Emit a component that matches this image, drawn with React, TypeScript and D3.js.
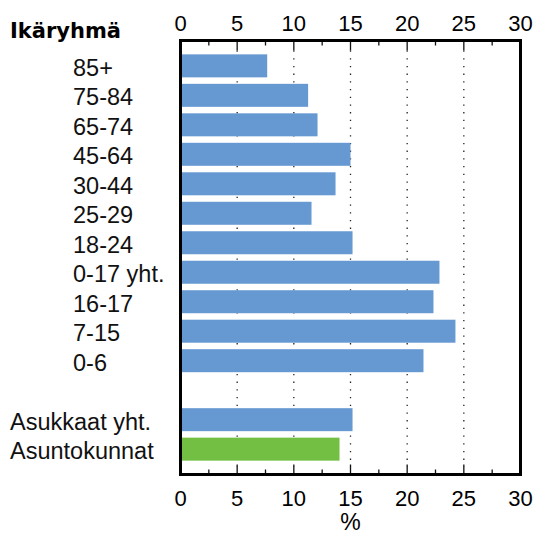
import * as d3 from 'd3';

// Ikäryhmät ylhäältä alas
const ageGroups = ['85+', '75-84', '65-74', '45-64', '30-44', '25-29', '18-24', '0-17 yht.', '16-17', '7-15', '0-6'];
const ageValues = [7.65, 11.26, 12.09, 15.0, 13.68, 11.56, 15.18, 22.85, 22.32, 24.26, 21.44];

const totalGroups = ['Asukkaat yht.', 'Asuntokunnat'];
const totalValues = [15.18, 14.03];

const xTicks = [0, 5, 10, 15, 20, 25, 30];
const minorTicks = [2.5, 7.5, 12.5, 17.5, 22.5, 27.5];
const gridTicks = [5, 10, 15, 20, 25];

const W = 534;
const H = 535;
const BLUE = '#6699d2';
const GREEN = '#72bf44';
const FONT = '"Liberation Sans", Arial, sans-serif';

export default function App() {
    const left = 180.5, right = 520.5, top = 40.5, bottom = 474.5;

    const rows = [...ageGroups, '__gap', ...totalGroups];
    const bars = [
        ...ageGroups.map((k, i) => ({ key: k, value: ageValues[i], color: BLUE, indent: true })),
        ...totalGroups.map((k, i) => ({ key: k, value: totalValues[i], color: i === 1 ? GREEN : BLUE, indent: false })),
    ];

    const x = d3.scaleLinear().domain([0, 30]).range([left, right]);
    const y = d3.scaleBand<string>().domain(rows).range([top, bottom]).paddingInner(0.22).paddingOuter(0.47);

    return (
        <div style={{ position: 'fixed', left: 0, top: 0 }}>
            <svg width={W} height={H} style={{ display: 'block', background: '#fff' }}>
                {/* pisteviivat */}
                {gridTicks.map(t => (
                    <line key={'g' + t} x1={x(t)} x2={x(t)} y1={top + 10} y2={bottom - 8}
                        stroke="#222" strokeWidth={1.3} strokeDasharray="1.3 6.4" />
                ))}

                {bars.map(b => (
                    <rect key={b.key} x={x(0)} y={y(b.key)} width={x(b.value) - x(0)}
                        height={y.bandwidth()} fill={b.color} />
                ))}

                {/* tikit */}
                {xTicks.map(t => (
                    <g key={'t' + t}>
                        <line x1={x(t)} x2={x(t)} y1={top} y2={top + 10} stroke="#111" strokeWidth={1.3} />
                        <line x1={x(t)} x2={x(t)} y1={bottom} y2={bottom - 10} stroke="#111" strokeWidth={1.3} />
                    </g>
                ))}
                {minorTicks.map(t => (
                    <g key={'m' + t}>
                        <line x1={x(t)} x2={x(t)} y1={top} y2={top + 5} stroke="#111" strokeWidth={1.3} />
                        <line x1={x(t)} x2={x(t)} y1={bottom} y2={bottom - 5} stroke="#111" strokeWidth={1.3} />
                    </g>
                ))}

                <rect x={left} y={top} width={right - left} height={bottom - top}
                    fill="none" stroke="#000" strokeWidth={3} />

                {xTicks.map(t => (
                    <g key={'l' + t} fontFamily={FONT} fontSize={22} textAnchor="middle" fill="#000">
                        <text x={x(t)} y={31}>{t}</text>
                        <text x={x(t)} y={506}>{t}</text>
                    </g>
                ))}
                <text x={x(15)} y={530} fontFamily={FONT} fontSize={23} textAnchor="middle">%</text>

                <text x={10} y={37.5} fontFamily='"DejaVu Sans", sans-serif' fontWeight="bold" fontSize={21}>Ikäryhmä</text>

                {bars.map(b => (
                    <text key={'c' + b.key} x={b.indent ? 73 : 10}
                        y={(y(b.key) ?? 0) + y.bandwidth() / 2 + 10}
                        fontFamily={FONT} fontSize={23.5} fill="#111">{b.key}</text>
                ))}
            </svg>
        </div>
    );
}
